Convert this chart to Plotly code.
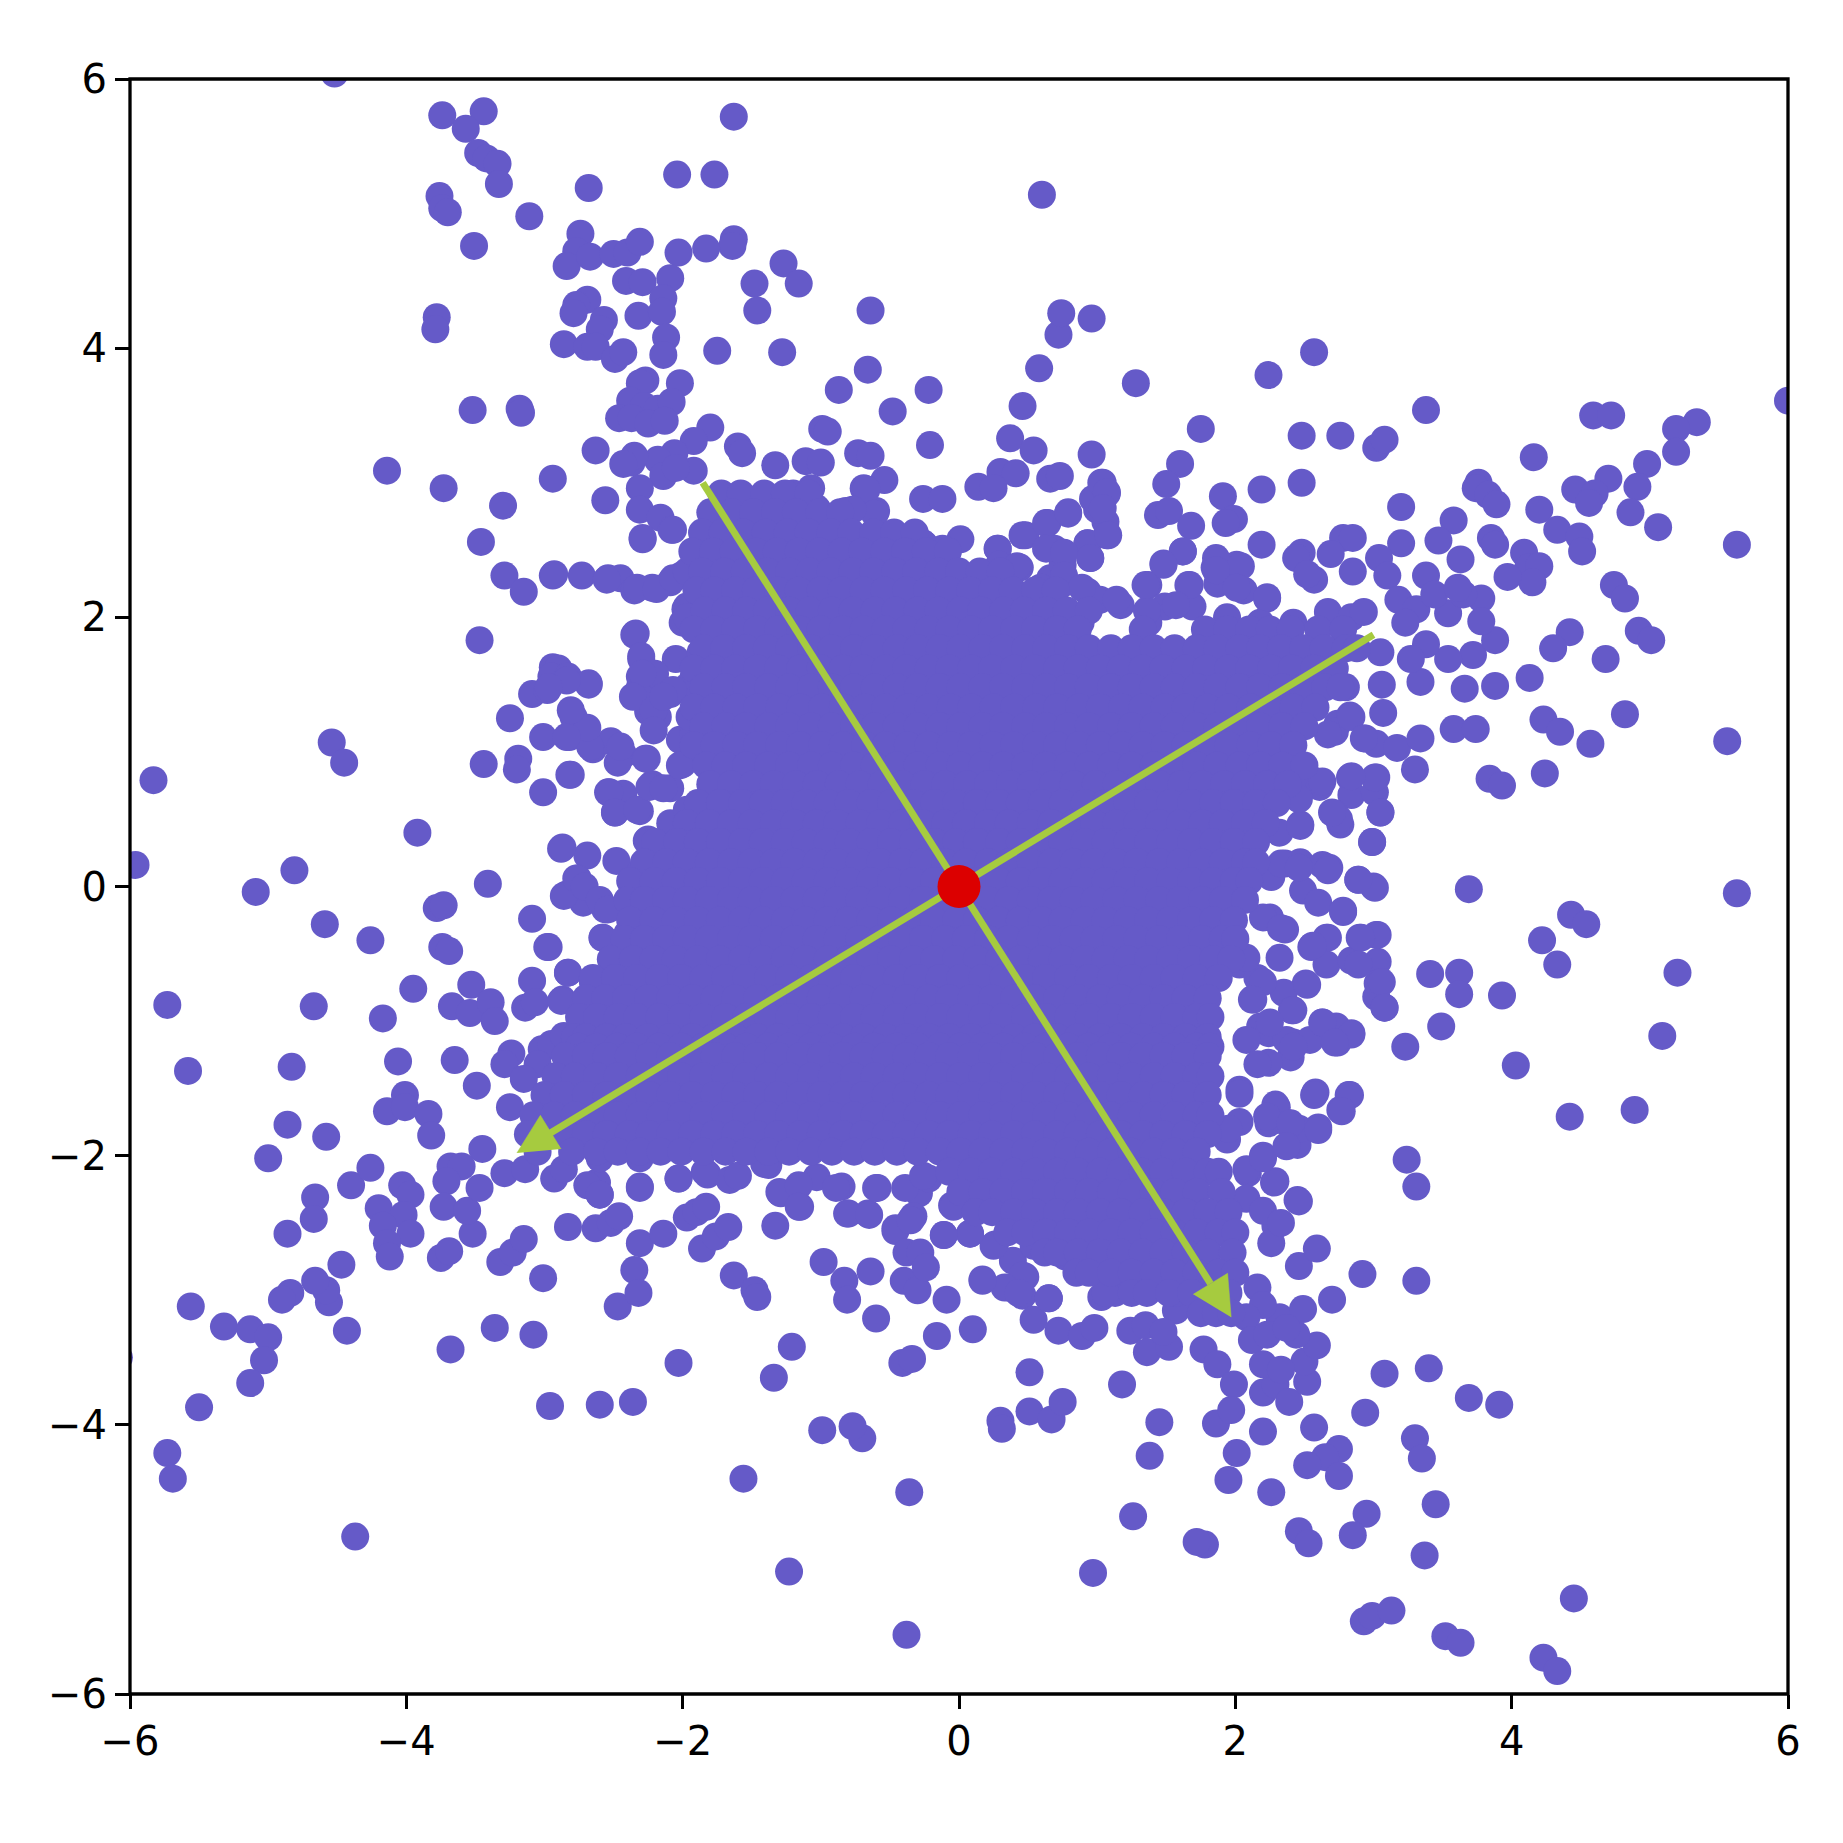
import plotly.graph_objects as go

pts_upper_left = [(-4.52,6.04),(-3.74,5.73),(-3.44,5.76),(-3.57,5.63),(-3.48,5.45),(-3.42,5.41),(-3.34,5.37),(-3.33,5.22),(-3.76,5.13),(-3.74,5.04),(-3.70,5.01),(-3.51,4.76),(-3.11,4.98),(-2.68,5.19),(-2.04,5.29),(-1.77,5.29),(-1.63,5.72),(-1.63,4.81),(-1.64,4.76),(-1.83,4.74),(-2.03,4.71),(-1.27,4.63),(-1.16,4.48),(-1.48,4.48),(-1.46,4.28),(-2.74,4.85),(-2.77,4.72),(-2.84,4.61),(-2.67,4.68),(-2.50,4.70),(-2.40,4.71),(-2.31,4.79),(-2.41,4.50),(-2.29,4.49),(-2.69,4.36),(-2.77,4.32),(-2.79,4.26),(-2.57,4.21),(-2.60,4.14),(-2.32,4.24),(-2.09,4.52),(-2.14,4.37),(-2.15,4.27),(-2.12,4.08),(-2.14,3.95),(-3.78,4.23),(-3.79,4.14),(-2.86,4.03),(-2.69,4.01),(-2.63,4.01),(-2.49,3.92),(-2.43,3.97),(-1.75,3.98),(-1.28,3.97),(-0.64,4.28),(-0.66,3.84),(-0.87,3.69),(-0.22,3.69),(-3.52,3.54),(-3.18,3.55),(-3.17,3.52),(-2.02,3.74),(-2.27,3.76),(-2.31,3.74),(-2.38,3.61),(-2.28,3.57),(-2.18,3.55),(-2.08,3.60),(-2.46,3.48),(-2.37,3.48),(-2.25,3.44),(-2.13,3.46),(-0.48,3.53),(-0.21,3.28),(-4.14,3.09),(-3.73,2.96),(-3.30,2.83),(-3.46,2.56),(-3.29,2.31),(-3.15,2.19),(-2.94,2.31),(-2.94,3.03),(-2.63,3.24),(-2.56,2.87),(-2.73,2.31),(-2.54,2.29),(-2.45,2.29),(-3.47,1.83),(-2.94,1.63),(-2.90,1.62),(-2.95,1.56),(-2.83,1.56),(-3.09,1.43),(-2.98,1.46),(-2.68,1.50),(-3.25,1.25),(-3.01,1.11),(-3.19,0.95),(-3.20,0.87),(-3.44,0.91),(-2.82,0.83),(-3.01,0.70),(-2.79,1.26),(-2.82,1.11),(-2.71,1.17),(-2.65,1.02),(-2.52,1.08),(-2.43,0.98),(-2.27,0.95),(-2.54,0.70),(-2.43,0.69),(-2.49,0.55),(-2.22,0.76),(-2.09,0.73),(-2.31,0.56),(-2.88,0.28),(-2.69,0.23),(-2.48,0.19),(-5.83,0.79),(-4.54,1.07),(-4.45,0.92),(-3.92,0.40),
(-1.33,3.13),(-1.11,3.16),(-1.0,3.15),(-0.99,3.40),(-0.95,3.38),(-0.73,3.22),(-0.64,3.20),(-0.54,3.02),(-1.60,3.27),(-1.57,3.22),(-1.80,3.41),(-1.92,3.31),(-2.06,3.22),(-2.18,3.17),(-2.37,3.15),(-2.14,3.05),(-2.31,2.96),(-2.31,2.80),(-2.16,2.74),(-2.08,2.65),(-2.29,2.58),(-1.92,3.09),(-2.05,3.11),(-2.35,3.20),(-2.43,3.14),(-1.20,2.92),(-1.07,2.96),(-0.82,2.79),(-0.60,2.79),(-0.69,2.96),(-0.26,2.88),(-0.12,2.88),(-0.39,2.55),(-0.25,2.54),(0.01,2.58),(-2.0,0.91),(-2.18,1.26),(-2.25,1.30),(-2.31,1.48),(-2.35,1.87),(-2.30,1.69),(-2.31,1.56),(-2.21,1.43),(-2.09,1.43),(-1.97,1.48),(-2.05,1.69),(-1.98,2.06),(-2.0,1.96),(-2.09,2.26),(-2.01,2.31),(-1.92,2.35),(-2.22,2.22),(-2.35,2.20),(-1.84,2.57),(-2.31,-0.18),(-2.22,0.08),(-2.26,0.34),(-2.09,0.47),(-1.92,0.56)]

pts_top_edge = [(-0.67,2.95),(-0.61,2.77),(-1.03,2.81),(-0.77,2.80),(-1.08,2.55),(-0.77,2.60),(-0.62,2.52),(-0.41,2.55),(-0.26,2.55),(-0.12,2.51),(-0.01,2.33),(0.06,2.22),(0.28,2.51),(0.31,2.37),(0.44,2.37),(0.31,2.25),(0.48,2.61),(0.64,2.70),(0.79,2.77),(0.69,2.51),(0.75,2.48),(0.95,2.44),(0.93,2.55),(1.07,2.61),(1.06,2.71),(1.0,2.80),(0.97,2.88),(1.07,2.92),(1.04,3.0),(0.66,2.29),(0.75,2.39),(0.75,2.25),(0.93,2.19),(1.02,2.13),(1.17,2.09),(0.56,2.2),(1.37,2.24),(1.49,2.08),(1.66,2.24),(1.48,2.40),(1.62,2.49),(1.85,2.37),(2.01,2.39),(1.87,2.25),(2.06,2.2),(2.23,2.14),(2.18,1.96),(1.94,2.0),(1.37,1.96),(1.36,2.05),(1.69,2.08),(0.88,1.96),(0.73,1.91)]

pts_right_edge = [(2.74,1.21),(2.83,1.27),(2.72,1.15),(2.94,1.10),(2.56,0.79),(2.83,0.81),(2.84,0.68),(3.02,0.81),(3.01,0.70),(3.05,0.55),(2.72,0.54),(2.76,0.46),(2.99,0.33),(2.61,0.74),(2.47,0.46),(2.32,0.40),(2.36,0.17),(2.47,0.18),(2.63,0.16),(2.68,0.14),(2.49,-0.03),(2.60,-0.12),(2.78,-0.19),(2.89,0.05),(3.0,0.0),(2.26,0.07),(2.25,-0.23),(2.36,-0.32),(2.32,-0.53),(2.55,-0.45),(2.66,-0.38),(2.66,-0.58),(2.84,-0.55),(2.9,-0.38),(3.03,-0.36),(3.03,-0.56),(3.03,-0.72),(3.02,-0.82),(3.08,-0.90),(2.03,-0.58),(2.16,-0.68),(2.13,-0.84),(2.51,-0.72),(2.35,-0.79),(2.41,-0.92),(2.18,-1.04),(2.24,-1.09),(2.42,-1.16),(2.40,-1.27),(2.24,-1.31),(2.54,-1.14),(2.63,-1.01),(2.74,-1.16),(2.84,-1.09),(2.03,-1.51),(2.30,-1.64),(2.24,-1.76),(2.38,-1.76),(2.45,-1.92),(2.20,-2.0),(2.09,-2.13),(2.28,-2.20),(2.03,-1.75),(1.94,-1.88),(2.45,-2.33),(2.58,-1.53),(2.82,-1.55),(2.76,-1.66),(2.60,-1.79)]

pts_left_edge = [(-2.29,2.59),(-2.07,2.65),(-2.93,2.32),(-2.55,2.28),(-2.33,2.22),(-2.19,2.21),(-2.07,2.29),(-1.97,2.34),(-1.97,2.08),(-1.97,2.0),(-1.87,1.74),(-2.34,1.88),(-2.30,1.71),(-2.2,1.58),(-2.29,1.58),(-2.36,1.41),(-2.21,1.31),(-2.21,1.16),(-1.92,1.56),(-2.07,1.46),(-2.14,1.41),(-2.02,1.09),(-2.02,0.90),(-1.92,1.14),(-1.95,1.26),(-2.26,0.95),(-2.47,0.92),(-2.45,1.04),(-2.67,1.04),(-2.69,1.18),(-2.84,1.11),(-2.81,1.31),(-2.68,1.51),(-2.84,1.53),(-2.97,1.48),(-2.81,0.83),(-2.53,0.70),(-2.49,0.55),(-2.33,0.57),(-2.24,0.74),(-2.14,0.73),(-1.97,0.57),(-2.25,0.35),(-2.87,0.29),(-2.76,0.06),(-2.84,-0.06),(-2.72,-0.12),(-2.56,-0.17),(-2.31,0.10),(-2.26,-0.12),(-2.40,-0.17),(-2.58,-0.38),(-2.40,-0.35),(-2.45,-0.57),(-2.65,-0.71),(-2.67,-0.92),(-2.97,-0.45),(-2.83,-0.64),(-2.87,-0.84)]

pts_bottom_edge = [(-2.62,-2.20),(-2.6,-2.29),(-2.31,-2.23),(-2.03,-2.17),(-1.82,-2.14),(-1.66,-2.18),(-1.38,-2.07),(-1.30,-2.27),(-1.15,-2.38),(-1.03,-2.16),(-0.85,-2.23),(-0.59,-2.24),(-0.80,-2.43),(-0.66,-2.43),(-0.29,-2.28),(-0.22,-2.17),(-0.33,-2.45),(-0.46,-2.54),(-0.05,-2.37),(-0.11,-2.59),(0.08,-2.58),(0.02,-2.18),(0.26,-2.66),(0.39,-2.78),(0.61,-2.70),(0.48,-2.90),(0.36,-2.98),(0.46,-3.04),(0.17,-2.92),(0.65,-3.06),(0.77,-2.75),(0.88,-2.83),(1.03,-3.05),(1.13,-3.02),(1.23,-2.98),(1.38,-2.92),(1.51,-3.0),(1.57,-3.15)]

pts_upper_right = [(0.60,5.14),(0.58,3.85),(0.72,4.10),(0.74,4.26),(0.96,4.22),(1.28,3.74),(2.24,3.80),(2.57,3.97),(0.46,3.57),(0.37,3.33),(0.54,3.24),(0.30,3.08),(0.41,3.07),(0.96,3.21),(0.66,3.03),(0.73,3.05),(1.75,3.40),(1.60,3.14),(1.50,2.99),(0.14,2.97),(0.25,2.96),(1.03,3.0),(1.07,2.93),(1.44,2.76),(1.52,2.79),(1.68,2.68),(1.91,2.90),(2.19,2.95),(2.48,3.35),(2.48,3.0),(2.76,3.35),(3.02,3.26),(3.08,3.32),(3.38,3.54),(3.20,2.82),(4.16,3.19),(4.59,3.50),(4.72,3.50),(5.34,3.45),(5.19,3.40),(5.19,3.23),(4.98,3.14),(6.0,3.61),(4.70,3.03),(4.46,2.95),(4.60,2.92),(4.56,2.85),(4.91,2.97),(5.06,2.67),(4.86,2.78),(4.20,2.80),(4.33,2.65),(4.49,2.60),(3.76,3.0),(3.74,2.96),(3.83,2.91),(3.89,2.84),(3.58,2.72),(3.47,2.57),(3.85,2.59),(3.88,2.54),(3.63,2.43),(4.51,2.49),(5.63,2.54),(4.09,2.48),(4.12,2.37),(4.20,2.38),(4.15,2.26),(3.97,2.30),(3.78,2.14),(4.74,2.24),(4.82,2.14),(4.42,1.89),(4.30,1.77),(4.92,1.90),(5.01,1.83),(4.68,1.69),(4.13,1.55),(4.82,1.28),(4.23,1.24),(4.35,1.15),(4.57,1.06),(5.56,1.08),(4.24,0.84),(3.84,0.80),(3.93,0.75),(3.05,0.55),(2.75,0.50),(2.70,0.55),(2.47,0.45),(3.01,0.81),(2.84,0.82),(3.30,0.87),(3.02,1.06),(3.17,1.03),(3.34,1.10),(3.07,1.29),(3.06,1.50),(3.34,1.52),(3.88,1.49),(3.66,1.47),(3.72,1.72),(3.58,1.17),(3.74,1.17),(3.88,1.83),(3.54,1.69),(3.38,1.80),(3.54,2.03),(3.78,1.97),(3.65,2.17),(3.38,2.31),(3.20,2.55),(3.04,2.44),(2.85,2.34),(2.78,2.59),(2.85,2.59),(2.69,2.47),(2.57,2.28),(2.48,2.48),(2.44,2.44),(2.52,2.32),(2.19,2.54),(1.99,2.73),(1.93,2.70),(1.86,2.44),(1.62,2.49),(1.48,2.39),(2.04,2.38),(2.23,2.15),
(0.28,2.51),(0.29,2.39),(0.29,2.29),(0.46,2.61),(0.63,2.70),(0.79,2.78),(0.93,2.55),(0.95,2.44),(1.04,2.81),(1.08,2.61),(0.63,2.51),(0.76,2.48),(0.42,2.38),(0.59,2.22),(0.76,2.31),(0.89,2.22),(1.14,2.13),(1.35,2.24),(1.67,2.24),(1.86,2.35),(1.57,2.09),(2.01,2.22),(2.42,1.96),(2.67,2.04),(2.84,2.0),(2.93,2.04),(3.10,2.31),(3.18,2.13),(3.31,2.06),(3.23,1.96),(3.44,2.17),(3.61,2.22),(3.05,1.74),(3.27,1.69),(2.80,1.48),(2.84,1.26),(2.67,1.13),(2.93,1.10),(2.63,0.78),(2.46,0.65),(2.33,0.17),(2.46,0.14),(2.67,0.12)]

pts_lower_right = [(3.69,-0.02),(5.63,-0.05),(4.43,-0.21),(4.54,-0.28),(4.22,-0.40),(4.33,-0.58),(5.20,-0.64),(3.93,-0.81),(3.41,-0.65),(3.62,-0.64),(3.62,-0.80),(3.49,-1.04),(5.09,-1.11),(3.23,-1.19),(4.03,-1.33),(4.42,-1.71),(4.89,-1.66),(3.24,-2.03),(3.31,-2.23),(3.31,-2.93),(2.92,-2.88),(2.70,-3.07),(3.40,-3.58),(3.08,-3.62),(3.69,-3.80),(3.91,-3.85),(2.94,-3.91),(3.30,-4.10),(3.35,-4.25),(3.45,-4.59),(2.95,-4.66),(3.37,-4.97),(2.85,-4.82),(2.46,-4.79),(2.53,-4.88),(1.78,-4.89),(1.72,-4.87),(2.26,-4.50),(2.75,-4.18),(2.65,-4.24),(2.75,-4.38),(2.52,-4.30),(1.95,-4.41),(2.01,-4.21),(1.86,-3.99),(2.57,-4.02),(2.20,-4.05),(1.26,-4.68),(1.38,-4.23),(1.45,-3.98),(1.18,-3.70),(0.97,-5.10),(2.93,-5.46),(2.99,-5.42),(3.13,-5.38),(3.52,-5.57),(3.63,-5.62),(4.23,-5.73),(4.33,-5.83),(4.45,-5.29),(0.30,-3.97),(0.31,-4.03),(0.51,-3.61),(0.51,-3.90),(0.67,-3.96),(0.75,-3.83),(0.54,-3.22),(0.65,-3.06),(0.72,-3.30),(0.89,-3.34),(0.98,-3.28),(1.24,-3.30),(1.35,-3.26),(1.36,-3.46),(1.52,-3.42),(1.48,-3.31),(1.77,-3.44),(1.87,-3.55),(1.99,-3.70),(1.97,-3.89),(2.20,-3.76),(2.29,-3.70),(2.39,-3.83),(2.52,-3.68),(2.50,-3.53),(2.59,-3.41),(2.44,-3.33),(2.32,-3.20),(2.49,-3.14),(2.46,-2.82),(2.59,-2.69),(2.46,-2.34),(2.29,-2.52),(2.26,-2.65),(2.29,-2.19),(2.46,-1.80),(2.57,-1.55),(2.60,-1.81),(2.83,-1.55),(2.77,-1.67),(2.73,-1.04),(2.63,-1.01),(2.84,-1.10),(2.72,-1.16),(2.52,-0.73),(2.42,-0.92),(2.37,-1.14),(3.06,-0.71),(3.08,-0.90),(3.02,-0.36),(2.91,-0.38),(2.89,-0.58),(3.01,-0.01),(2.89,0.05),(2.99,0.33),(2.78,-0.18),(2.67,-0.38),(2.56,-0.44),(2.2,-0.23),(2.33,-0.31),(2.08,-0.53),(2.2,-0.71),(2.12,-0.84),(2.25,-1.01),(2.08,-1.14),(2.16,-1.32),(2.42,-1.19),(2.29,-1.62),(2.23,-1.71),(2.40,-1.76),(2.03,-1.54),(1.95,-1.80),(2.08,-2.10),(2.2,-2.02),(2.37,-1.93),(2.08,-2.32),(2.2,-2.41),(2.33,-2.50),(2.16,-2.98),(2.2,-3.11),(2.08,-3.2),(2.12,-3.37),(2.23,-3.33),(2.37,-3.28),(2.2,-3.55),(2.33,-3.59),(1.82,-3.07),(1.57,-3.02),(1.27,-2.89),(1.06,-3.02),(0.89,-2.80),(0.46,-2.89),(0.33,-2.98),(0.43,-3.02),(0.25,-2.67),(0.54,-2.67),(0.10,-3.29),(0.17,-2.93),(0.08,-2.58)]

pts_lower_left = [(-1.23,-5.09),(-0.38,-5.56),(-0.36,-4.50),(-0.70,-4.10),(-0.77,-4.01),(-0.99,-4.04),(-1.56,-4.40),(-1.34,-3.65),(-1.21,-3.42),(-2.03,-3.54),(-2.36,-3.83),(-2.60,-3.85),(-2.96,-3.86),(-3.08,-3.33),(-3.36,-3.28),(-3.68,-3.44),(-4.37,-4.83),(-4.43,-3.30),(-4.56,-3.09),(-4.58,-3.0),(-4.66,-2.93),(-4.47,-2.81),(-4.84,-3.02),(-4.90,-3.07),(-5.56,-3.12),(-5.32,-3.27),(-5.13,-3.29),(-5.0,-3.35),(-5.03,-3.52),(-5.13,-3.69),(-5.50,-3.87),(-5.73,-4.21),(-5.69,-4.40),(-6.08,-3.5),(-4.86,-2.58),(-4.66,-2.31),(-4.67,-2.47),(-5.0,-2.02),(-4.86,-1.77),(-4.58,-1.86),(-4.40,-2.22),(-4.26,-2.09),(-4.83,-1.34),(-5.58,-1.37),(-5.73,-0.88),(-4.67,-0.89),(-4.17,-0.98),(-3.95,-0.76),(-4.26,-0.40),(-4.59,-0.28),(-5.09,-0.04),(-4.81,0.12),(-5.96,0.16),(-3.41,0.02),(-3.78,-0.16),(-3.73,-0.14),(-3.74,-0.45),(-3.69,-0.48),(-3.09,-0.24),(-2.98,-0.45),(-3.09,-0.70),(-2.86,-0.07),(-2.77,0.06),(-2.71,0.0),(-2.6,-0.1),(-2.54,-0.17),(-2.58,-0.38),(-2.83,-0.64),(-3.67,-0.89),(-3.53,-0.73),(-3.54,-0.94),(-3.39,-0.86),(-3.36,-1.0),(-3.14,-0.90),(-3.07,-0.86),(-2.88,-0.85),(-3.65,-1.29),(-3.49,-1.48),(-4.06,-1.30),(-3.24,-1.24),(-3.29,-1.32),(-4.01,-1.55),(-4.14,-1.67),(-4.01,-1.64),(-3.84,-1.69),(-3.82,-1.85),(-3.25,-1.64),(-3.02,-1.21),(-2.95,-1.17),(-2.86,-1.11),(-3.05,-1.32),(-3.15,-1.43),(-3.45,-1.95),(-3.68,-2.08),(-3.60,-2.08),(-3.71,-2.19),(-3.73,-2.38),(-4.03,-2.22),(-3.97,-2.29),(-4.20,-2.39),(-4.02,-2.44),(-4.17,-2.52),(-3.97,-2.58),(-4.14,-2.65),(-4.12,-2.75),(-3.75,-2.76),(-3.69,-2.71),(-3.52,-2.58),(-3.56,-2.41),(-3.47,-2.24),(-3.32,-2.79),(-3.23,-2.72),(-3.15,-2.62),(-3.01,-2.91),(-2.93,-2.17),(-3.29,-2.13),(-3.14,-2.10),(-2.83,-2.53),(-2.63,-2.54),(-2.52,-2.50),(-2.46,-2.45),(-2.69,-2.22),(-2.60,-2.29),(-2.31,-2.65),(-2.14,-2.58),(-2.35,-2.85),(-2.47,-3.12),(-2.32,-3.02),(-2.31,-2.24),(-2.03,-2.17),(-1.97,-2.46),(-1.90,-2.42),(-1.83,-2.38),(-1.86,-2.69),(-1.76,-2.60),(-1.67,-2.53),(-1.33,-2.52),(-1.63,-2.89),(-1.48,-3.0),(-1.46,-3.05),(-0.98,-2.79),(-0.83,-2.93),(-0.81,-3.07),(-0.64,-2.86),(-0.60,-3.21),(-0.81,-2.43),(-0.65,-2.44),(-0.46,-2.56),(-0.35,-2.48),(-0.40,-2.93),(-0.30,-3.0),(-0.41,-3.54),(-0.34,-3.51),(-0.38,-2.72),(-0.28,-2.72),(-0.24,-2.83),(-0.16,-3.34),(-0.09,-3.07),(-0.04,-2.38),(-0.11,-2.59),(-1.84,-2.12),(-1.60,-2.15),(-1.41,-2.06),(-1.29,-2.28),(-1.16,-2.22),(-1.16,-2.38),(-0.89,-2.24),(-0.60,-2.24),(-0.39,-2.24),(-0.26,-2.15),(-2.31,-2.02),(-2.6,-2.02),(-2.86,-2.10)]

core_levels = [2.92,2.78,2.63,2.49,2.34,2.20,2.05,1.91,1.77,1.62,1.48,1.33,1.19,1.05,0.90,0.76,0.62,0.47,0.33,0.18,0.04,-0.10,-0.25,-0.39,-0.54,-0.68,-0.83,-0.97,-1.12,-1.19,-1.26,-1.41,-1.55,-1.70,-1.84,-1.97,-2.12,-2.27,-2.42,-2.57,-2.72,-2.87,-3.02,-3.17]
core_rows = [
[-1.72,-1.58,-1.41,-1.26,-1.09],
[-1.80,-1.64,-1.49,-1.33,-1.18,-1.01,-0.86],
[-1.86,-1.71,-1.56,-1.40,-1.24,-1.09,-0.93,-0.78,-0.62,-0.47,-0.32],
[-1.93,-1.78,-1.63,-1.47,-1.32,-1.16,-1.01,-0.85,-0.70,-0.54,-0.39,-0.24,-0.08],
[-1.86,-1.70,-1.55,-1.39,-1.23,-1.08,-0.93,-0.77,-0.62,-0.46,-0.31,-0.15,0.0,0.15,0.30],
[-1.90,-1.77,-1.62,-1.47,-1.31,-1.16,-1.0,-0.85,-0.69,-0.54,-0.38,-0.23,-0.07,0.08,0.24,0.39,0.55,0.70],
[-1.84,-1.69,-1.54,-1.39,-1.23,-1.08,-0.92,-0.77,-0.61,-0.46,-0.30,-0.15,0.01,0.16,0.32,0.47,0.63,0.78,0.94],
[-1.92,-1.77,-1.62,-1.46,-1.31,-1.15,-1.0,-0.84,-0.69,-0.53,-0.38,-0.22,-0.07,0.09,0.24,0.40,0.55,0.71,0.86,1.33,1.78,1.94,2.10,2.25,2.40,2.60,2.78],
[-1.85,-1.70,-1.54,-1.39,-1.23,-1.07,-0.92,-0.76,-0.61,-0.45,-0.30,-0.14,0.01,0.17,0.32,0.48,0.63,0.79,0.94,1.10,1.25,1.41,1.56,1.72,1.87,2.03,2.18,2.33,2.49,2.64,2.80,2.88],
[-1.92,-1.77,-1.62,-1.46,-1.31,-1.15,-1.0,-0.84,-0.69,-0.53,-0.38,-0.22,-0.07,0.09,0.24,0.40,0.55,0.71,0.86,1.02,1.17,1.33,1.48,1.64,1.79,1.95,2.10,2.26,2.41,2.57,2.72],
[-1.85,-1.69,-1.54,-1.38,-1.23,-1.07,-0.92,-0.76,-0.61,-0.45,-0.30,-0.14,0.01,0.17,0.32,0.48,0.63,0.79,0.94,1.10,1.25,1.41,1.56,1.72,1.87,2.03,2.18,2.34,2.49,2.65,2.76],
[-1.92,-1.77,-1.61,-1.46,-1.30,-1.15,-0.99,-0.84,-0.68,-0.53,-0.37,-0.22,-0.06,0.09,0.25,0.40,0.56,0.71,0.87,1.02,1.18,1.33,1.49,1.64,1.80,1.95,2.11,2.26,2.42,2.58],
[-1.85,-1.69,-1.54,-1.38,-1.23,-1.07,-0.92,-0.76,-0.61,-0.45,-0.30,-0.14,0.01,0.17,0.32,0.48,0.63,0.79,0.94,1.10,1.25,1.41,1.56,1.72,1.87,2.03,2.18,2.34,2.50],
[-1.92,-1.77,-1.61,-1.46,-1.30,-1.15,-0.99,-0.84,-0.68,-0.53,-0.37,-0.22,-0.06,0.09,0.25,0.40,0.56,0.71,0.87,1.02,1.18,1.33,1.49,1.64,1.80,1.95,2.11,2.26,2.42],
[-1.83,-1.69,-1.54,-1.38,-1.23,-1.07,-0.92,-0.76,-0.61,-0.45,-0.30,-0.14,0.01,0.17,0.32,0.48,0.63,0.79,0.94,1.10,1.25,1.41,1.56,1.72,1.87,2.03,2.18,2.34,2.50],
[-1.80,-1.65,-1.49,-1.34,-1.18,-1.03,-0.87,-0.72,-0.56,-0.41,-0.25,-0.10,0.06,0.21,0.37,0.52,0.68,0.83,0.99,1.14,1.30,1.45,1.61,1.76,1.92,2.07,2.23,2.38],
[-1.89,-1.73,-1.57,-1.42,-1.26,-1.11,-0.95,-0.80,-0.64,-0.49,-0.33,-0.18,-0.02,0.13,0.29,0.44,0.60,0.75,0.91,1.06,1.22,1.37,1.53,1.68,1.84,1.99,2.15,2.30],
[-1.97,-1.81,-1.65,-1.50,-1.34,-1.19,-1.03,-0.88,-0.72,-0.57,-0.41,-0.26,-0.10,0.05,0.21,0.36,0.52,0.67,0.83,0.98,1.14,1.29,1.45,1.60,1.76,1.91,2.07,2.22],
[-2.20,-2.04,-1.89,-1.73,-1.57,-1.42,-1.26,-1.11,-0.95,-0.80,-0.64,-0.49,-0.33,-0.18,-0.02,0.13,0.29,0.44,0.60,0.75,0.91,1.06,1.22,1.37,1.53,1.68,1.84,1.99,2.15],
[-2.28,-2.12,-1.97,-1.81,-1.65,-1.50,-1.34,-1.19,-1.03,-0.88,-0.72,-0.57,-0.41,-0.26,-0.10,0.05,0.21,0.36,0.52,0.67,0.83,0.98,1.14,1.29,1.45,1.60,1.76,1.91,2.07,2.15],
[-2.38,-2.21,-2.05,-1.89,-1.73,-1.57,-1.42,-1.26,-1.11,-0.95,-0.80,-0.64,-0.49,-0.33,-0.18,-0.02,0.13,0.29,0.44,0.60,0.75,0.91,1.06,1.22,1.37,1.53,1.68,1.84,1.99,2.10],
[-2.40,-2.28,-2.12,-1.97,-1.81,-1.65,-1.50,-1.34,-1.19,-1.03,-0.88,-0.72,-0.57,-0.41,-0.26,-0.10,0.05,0.21,0.36,0.52,0.67,0.83,0.98,1.14,1.29,1.45,1.60,1.76,1.91,2.07],
[-2.38,-2.21,-2.05,-1.89,-1.73,-1.57,-1.42,-1.26,-1.11,-0.95,-0.80,-0.64,-0.49,-0.33,-0.18,-0.02,0.13,0.29,0.44,0.60,0.75,0.91,1.06,1.22,1.37,1.53,1.68,1.84,1.99],
[-2.42,-2.28,-2.12,-1.97,-1.81,-1.65,-1.50,-1.34,-1.19,-1.03,-0.88,-0.72,-0.57,-0.41,-0.26,-0.10,0.05,0.21,0.36,0.52,0.67,0.83,0.98,1.14,1.29,1.45,1.60,1.76,1.91,2.0],
[-2.52,-2.36,-2.21,-2.05,-1.89,-1.73,-1.57,-1.42,-1.26,-1.11,-0.95,-0.80,-0.64,-0.49,-0.33,-0.18,-0.02,0.13,0.29,0.44,0.60,0.75,0.91,1.06,1.22,1.37,1.53,1.68,1.84,1.97],
[-2.65,-2.49,-2.33,-2.17,-2.01,-1.85,-1.69,-1.54,-1.38,-1.23,-1.07,-0.92,-0.76,-0.61,-0.45,-0.30,-0.14,0.01,0.17,0.32,0.48,0.63,0.79,0.94,1.10,1.25,1.41,1.56,1.72,1.88],
[-2.70,-2.56,-2.41,-2.25,-2.09,-1.93,-1.77,-1.62,-1.46,-1.31,-1.15,-1.0,-0.84,-0.69,-0.53,-0.38,-0.22,-0.07,0.09,0.24,0.40,0.55,0.71,0.86,1.02,1.17,1.33,1.48,1.64,1.80],
[-2.75,-2.62,-2.47,-2.33,-2.17,-2.01,-1.85,-1.69,-1.54,-1.38,-1.23,-1.07,-0.92,-0.76,-0.61,-0.45,-0.30,-0.14,0.01,0.17,0.32,0.48,0.63,0.79,0.94,1.10,1.25,1.41,1.56,1.72,1.82],
[-2.78,-2.70,-2.55,-2.41,-2.25,-2.09,-1.93,-1.77,-1.62,-1.46,-1.31,-1.15,-1.0,-0.84,-0.69,-0.53,-0.38,-0.22,-0.07,0.09,0.24,0.40,0.55,0.71,0.86,1.02,1.17,1.33,1.48,1.64,1.80],
[-2.75,-2.62,-2.47,-2.33,-2.17,-2.01,-1.85,-1.69,-1.54,-1.38,-1.23,-1.07,-0.92,-0.76,-0.61,-0.45,-0.30,-0.14,0.01,0.17,0.32,0.48,0.63,0.79,0.94,1.10,1.25,1.41,1.56,1.72,1.82],
[-2.85,-2.70,-2.55,-2.39,-2.24,-2.09,-1.93,-1.77,-1.62,-1.46,-1.31,-1.15,-1.0,-0.84,-0.69,-0.53,-0.38,-0.22,-0.07,0.09,0.24,0.40,0.55,0.71,0.86,1.02,1.17,1.33,1.48,1.64,1.80],
[-2.92,-2.78,-2.62,-2.47,-2.31,-2.16,-2.01,-1.85,-1.69,-1.54,-1.38,-1.23,-1.07,-0.92,-0.76,-0.61,-0.45,-0.30,-0.14,0.01,0.17,0.32,0.48,0.63,0.79,0.94,1.10,1.25,1.41,1.56,1.72,1.82],
[-3.0,-2.86,-2.70,-2.55,-2.39,-2.24,-2.09,-1.93,-1.77,-1.62,-1.46,-1.31,-1.15,-1.0,-0.84,-0.69,-0.53,-0.38,-0.22,-0.07,0.09,0.24,0.40,0.55,0.71,0.86,1.02,1.17,1.33,1.48,1.64,1.80],
[-3.08,-2.93,-2.78,-2.62,-2.47,-2.31,-2.16,-2.01,-1.85,-1.69,-1.54,-1.38,-1.23,-1.07,-0.92,-0.76,-0.61,-0.45,-0.30,-0.14,0.01,0.17,0.32,0.48,0.63,0.79,0.94,1.10,1.25,1.41,1.56,1.72,1.82],
[-3.12,-2.98,-2.84,-2.70,-2.55,-2.39,-2.24,-2.09,-1.93,-1.77,-1.62,-1.46,-1.31,-1.15,-1.0,-0.84,-0.69,-0.53,-0.38,-0.22,-0.07,0.09,0.24,0.40,0.55,0.71,0.86,1.02,1.17,1.33,1.48,1.64,1.80],
[-3.05,-2.80,-2.62,-2.47,-2.31,-2.16,-2.01,-1.85,-1.69,-1.54,-1.38,-1.23,-1.07,-0.92,-0.76,-0.61,-0.45,-0.30,-0.14,0.01,0.17,0.32,0.48,0.63,0.79,0.94,1.10,1.25,1.41,1.56,1.72],
[-0.07,0.09,0.24,0.40,0.55,0.71,0.86,1.02,1.17,1.33,1.48,1.64,1.80,1.88],
[0.01,0.17,0.32,0.48,0.63,0.79,0.94,1.10,1.25,1.41,1.56,1.72,1.90],
[0.12,0.24,0.40,0.55,0.71,0.86,1.02,1.17,1.33,1.48,1.64,1.80,1.95],
[0.35,0.48,0.63,0.79,0.94,1.10,1.25,1.41,1.56,1.72,1.88,2.0],
[0.62,0.71,0.86,1.02,1.17,1.33,1.48,1.64,1.80,1.98],
[0.85,0.94,1.10,1.25,1.41,1.56,1.72,1.88,2.0],
[1.25,1.36,1.52,1.68,1.84,1.95],
[1.75,1.86,1.97],
]

# Vector ends, arrowhead triangles and the centre point
shaft_a_x = [3.0, -3.05]
shaft_a_y = [1.87, -1.89]
shaft_b_x = [-1.855, 1.82]
shaft_b_y = [3.0, -2.95]
head_a_x = [-3.20, -3.03, -2.88]
head_a_y = [-1.98, -1.70, -1.95]
head_b_x = [1.97, 1.944, 1.695]
head_b_y = [-3.20, -2.874, -3.03]
center_x = [0]
center_y = [0]
tick_vals = [-6, -4, -2, 0, 2, 4, 6]

PURPLE = "#655ac8"
GREEN = "#a6cb3f"
RED = "#dc0000"

outer = (pts_upper_left + pts_top_edge + pts_right_edge + pts_left_edge + pts_bottom_edge
         + pts_upper_right + pts_lower_right + pts_lower_left)
xs = [p[0] for p in outer]
ys = [p[1] for p in outer]
for level, row in zip(core_levels, core_rows):
    xs += row
    ys += [level] * len(row)

fig = go.Figure()
fig.add_trace(go.Scatter(x=xs, y=ys, mode="markers",
                         marker=dict(color=PURPLE, size=28, line=dict(width=0)), hoverinfo="skip"))
for sx, sy in ((shaft_a_x, shaft_a_y), (shaft_b_x, shaft_b_y)):
    fig.add_trace(go.Scatter(x=sx, y=sy, mode="lines", line=dict(color=GREEN, width=7), hoverinfo="skip"))
for hx, hy in ((head_a_x, head_a_y), (head_b_x, head_b_y)):
    fig.add_trace(go.Scatter(x=hx, y=hy, mode="lines", fill="toself", fillcolor=GREEN,
                             line=dict(color=GREEN, width=0.5), hoverinfo="skip"))
fig.add_trace(go.Scatter(x=center_x, y=center_y, mode="markers",
                         marker=dict(color=RED, size=43, line=dict(width=0)), hoverinfo="skip"))

axis = dict(range=[-6, 6], tickvals=tick_vals, showgrid=False, zeroline=False, showline=False,
            ticks="outside", ticklen=14, tickwidth=3.3, tickcolor="black",
            tickfont=dict(family="DejaVu Sans", size=40, color="black"))
fig.update_layout(width=1843, height=1843, autosize=False, showlegend=False,
                  paper_bgcolor="white", plot_bgcolor="white",
                  margin=dict(l=130, r=55, t=79, b=149, pad=0),
                  xaxis=dict(axis, ticklabelstandoff=-2), yaxis=axis,
                  shapes=[dict(type="rect", xref="paper", yref="paper", x0=0, x1=1, y0=0, y1=1,
                               line=dict(color="black", width=3.3), layer="above")])
fig.write_html("out.html", post_script="document.body.style.margin='0';",
               config={"displayModeBar": False})
